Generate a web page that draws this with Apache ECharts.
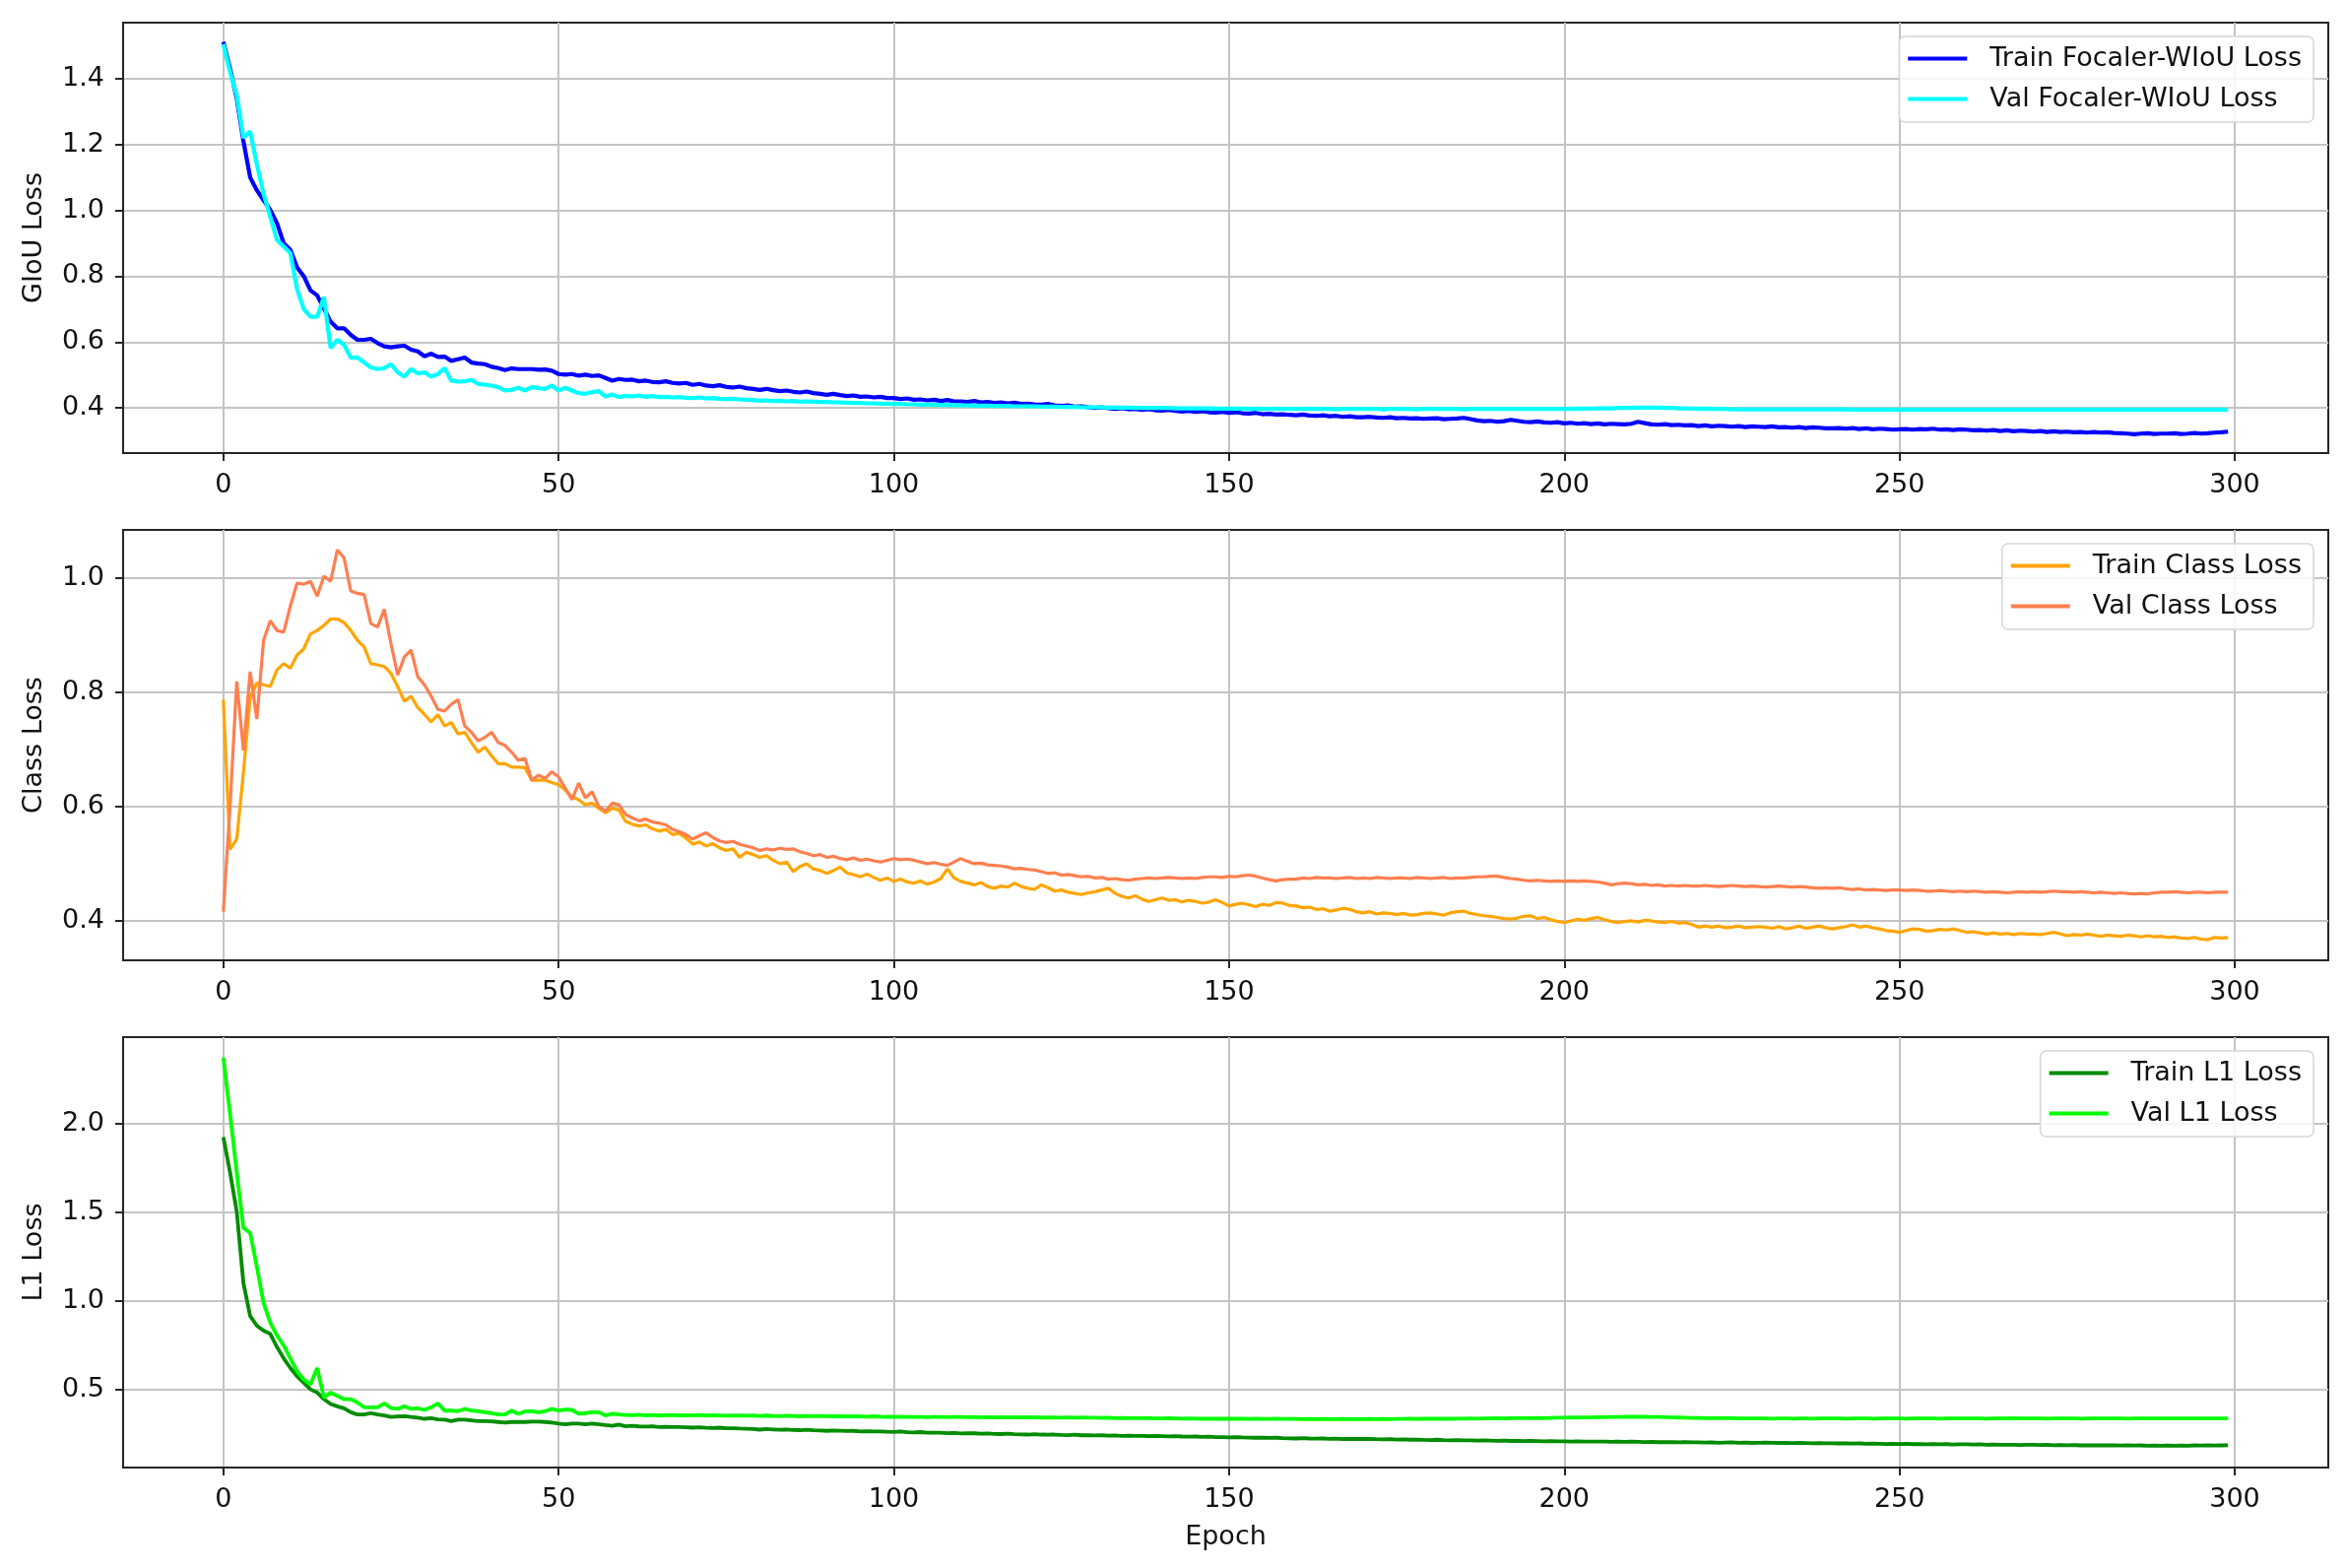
<!DOCTYPE html>
<html>
<head>
<meta charset="utf-8">
<script src="https://cdn.jsdelivr.net/npm/echarts@6/dist/echarts.min.js"></script>
<style>
html,body{margin:0;padding:0;background:#fff;}
#chart{width:2383px;height:1592px;}
</style>
</head>
<body>
<div id="chart"></div>
<script>
// ---- data ----
const xTicks = [0, 50, 100, 150, 200, 250, 300];
const giouTicks = [0.4, 0.6, 0.8, 1.0, 1.2, 1.4];
const classTicks = [0.4, 0.6, 0.8, 1.0];
const l1Ticks = [0.5, 1.0, 1.5, 2.0];

const trainGiou = [
1.512,1.43,1.34,1.21,1.10,1.061,1.031,1.001,0.961,0.90,
0.88,0.827,0.80,0.757,0.742,0.702,0.662,0.642,0.642,0.622,
0.607,0.607,0.61,0.597,0.587,0.584,0.587,0.589,0.577,0.572,
0.557,0.565,0.555,0.556,0.543,0.548,0.553,0.538,0.535,0.533,
0.525,0.521,0.515,0.52,0.518,0.518,0.518,0.516,0.517,0.513,
0.503,0.501,0.503,0.498,0.501,0.497,0.499,0.491,0.483,0.488,
0.485,0.486,0.481,0.483,0.479,0.478,0.481,0.476,0.474,0.476,
0.47,0.473,0.468,0.466,0.469,0.464,0.462,0.465,0.46,0.458,
0.455,0.458,0.454,0.451,0.453,0.449,0.447,0.45,0.445,0.443,
0.44,0.443,0.439,0.436,0.438,0.434,0.435,0.432,0.434,0.43,
0.43,0.427,0.429,0.425,0.426,0.423,0.425,0.421,0.424,0.42,
0.42,0.418,0.421,0.417,0.418,0.415,0.417,0.414,0.416,0.412,
0.413,0.411,0.41,0.412,0.408,0.406,0.408,0.404,0.405,0.402,
0.40,0.402,0.399,0.397,0.399,0.396,0.397,0.394,0.396,0.393,
0.392,0.394,0.391,0.389,0.391,0.388,0.39,0.387,0.386,0.388,
0.385,0.387,0.384,0.383,0.385,0.381,0.382,0.38,0.381,0.379,
0.378,0.38,0.377,0.376,0.378,0.375,0.376,0.373,0.375,0.372,
0.372,0.373,0.371,0.37,0.372,0.369,0.37,0.368,0.369,0.367,
0.368,0.369,0.366,0.367,0.368,0.37,0.366,0.362,0.36,0.361,
0.358,0.36,0.364,0.361,0.358,0.357,0.359,0.356,0.355,0.357,
0.353,0.355,0.352,0.354,0.351,0.353,0.35,0.352,0.351,0.35,
0.352,0.358,0.354,0.35,0.349,0.351,0.348,0.349,0.347,0.348,
0.345,0.347,0.344,0.346,0.345,0.343,0.345,0.342,0.344,0.343,
0.342,0.344,0.341,0.342,0.34,0.342,0.339,0.341,0.34,0.338,
0.338,0.339,0.337,0.339,0.336,0.338,0.335,0.337,0.336,0.334,
0.335,0.336,0.334,0.336,0.335,0.337,0.334,0.335,0.333,0.335,
0.334,0.332,0.333,0.331,0.333,0.33,0.332,0.329,0.331,0.33,
0.328,0.33,0.327,0.329,0.327,0.328,0.326,0.327,0.325,0.327,
0.325,0.326,0.324,0.323,0.322,0.32,0.322,0.323,0.321,0.322,
0.322,0.323,0.321,0.322,0.324,0.322,0.323,0.325,0.326,0.328
];
const valGiou = [
1.505,1.42,1.35,1.22,1.24,1.14,1.05,0.98,0.91,0.89,
0.87,0.76,0.70,0.677,0.677,0.737,0.582,0.607,0.592,0.553,
0.553,0.538,0.523,0.518,0.521,0.533,0.508,0.495,0.518,0.505,
0.508,0.495,0.503,0.521,0.483,0.48,0.481,0.485,0.473,0.471,
0.468,0.463,0.453,0.455,0.461,0.453,0.463,0.46,0.458,0.468,
0.453,0.461,0.453,0.445,0.443,0.448,0.451,0.435,0.441,0.433,
0.437,0.435,0.438,0.434,0.436,0.433,0.434,0.432,0.433,0.431,
0.43,0.432,0.429,0.43,0.428,0.427,0.428,0.426,0.425,0.424,
0.422,0.423,0.421,0.422,0.42,0.421,0.419,0.42,0.419,0.418,
0.418,0.417,0.417,0.416,0.415,0.415,0.414,0.414,0.413,0.413,
0.412,0.412,0.411,0.411,0.41,0.41,0.41,0.409,0.409,0.408,
0.408,0.408,0.407,0.407,0.407,0.406,0.406,0.406,0.405,0.405,
0.405,0.405,0.404,0.404,0.404,0.403,0.403,0.403,0.402,0.402,
0.402,0.402,0.401,0.401,0.401,0.401,0.4,0.4,0.4,0.4,
0.4,0.4,0.399,0.399,0.399,0.399,0.399,0.399,0.398,0.398,
0.398,0.398,0.398,0.397,0.398,0.397,0.397,0.398,0.397,0.397,
0.397,0.397,0.398,0.397,0.397,0.397,0.396,0.397,0.397,0.397,
0.397,0.397,0.397,0.396,0.397,0.397,0.397,0.397,0.396,0.397,
0.397,0.397,0.397,0.397,0.397,0.396,0.397,0.397,0.397,0.397,
0.397,0.397,0.397,0.397,0.397,0.397,0.397,0.397,0.397,0.397,
0.397,0.397,0.398,0.398,0.398,0.399,0.399,0.399,0.4,0.4,
0.4,0.401,0.401,0.401,0.401,0.4,0.4,0.399,0.399,0.398,
0.398,0.398,0.397,0.397,0.397,0.396,0.396,0.396,0.396,0.396,
0.396,0.396,0.396,0.396,0.396,0.396,0.396,0.396,0.396,0.396,
0.396,0.396,0.396,0.395,0.395,0.395,0.395,0.395,0.395,0.395,
0.395,0.395,0.395,0.395,0.395,0.395,0.395,0.395,0.395,0.395,
0.395,0.395,0.395,0.395,0.395,0.395,0.395,0.395,0.395,0.395,
0.395,0.395,0.395,0.395,0.395,0.395,0.395,0.395,0.395,0.395,
0.395,0.395,0.395,0.395,0.395,0.395,0.395,0.395,0.395,0.395,
0.395,0.395,0.395,0.395,0.395,0.395,0.395,0.395,0.395,0.395
];
const trainClass = [
0.787,0.525,0.543,0.66,0.79,0.816,0.813,0.81,0.839,0.85,
0.842,0.865,0.876,0.902,0.908,0.917,0.928,0.928,0.922,0.908,
0.891,0.879,0.85,0.848,0.845,0.833,0.81,0.784,0.793,0.773,
0.761,0.748,0.761,0.741,0.747,0.727,0.73,0.712,0.695,0.704,
0.689,0.675,0.675,0.669,0.669,0.668,0.646,0.646,0.646,0.642,
0.638,0.629,0.617,0.612,0.603,0.606,0.597,0.589,0.597,0.594,
0.574,0.569,0.566,0.568,0.561,0.557,0.56,0.551,0.553,0.545,
0.534,0.538,0.531,0.535,0.528,0.523,0.526,0.511,0.52,0.516,
0.511,0.514,0.506,0.50,0.503,0.486,0.495,0.50,0.491,0.488,
0.483,0.488,0.494,0.484,0.481,0.477,0.482,0.476,0.471,0.475,
0.469,0.473,0.468,0.466,0.47,0.464,0.468,0.474,0.491,0.475,
0.469,0.466,0.463,0.467,0.46,0.457,0.461,0.459,0.466,0.46,
0.457,0.455,0.463,0.458,0.452,0.454,0.45,0.448,0.446,0.449,
0.451,0.454,0.457,0.448,0.443,0.44,0.444,0.438,0.434,0.437,
0.44,0.436,0.437,0.433,0.436,0.434,0.431,0.433,0.437,0.432,
0.426,0.429,0.431,0.428,0.425,0.429,0.427,0.432,0.431,0.427,
0.426,0.423,0.424,0.42,0.421,0.417,0.419,0.422,0.42,0.416,
0.414,0.416,0.412,0.414,0.413,0.411,0.413,0.41,0.411,0.413,
0.414,0.412,0.41,0.414,0.416,0.417,0.413,0.411,0.409,0.408,
0.406,0.404,0.403,0.405,0.408,0.409,0.404,0.406,0.402,0.399,
0.397,0.4,0.403,0.401,0.404,0.406,0.402,0.399,0.397,0.399,
0.40,0.398,0.401,0.40,0.398,0.397,0.399,0.396,0.397,0.394,
0.389,0.391,0.389,0.391,0.388,0.389,0.391,0.388,0.389,0.39,
0.389,0.387,0.39,0.386,0.388,0.391,0.387,0.389,0.391,0.388,
0.386,0.388,0.39,0.393,0.389,0.391,0.388,0.386,0.383,0.382,
0.38,0.383,0.386,0.385,0.382,0.383,0.385,0.384,0.386,0.383,
0.38,0.381,0.379,0.377,0.379,0.377,0.378,0.376,0.378,0.377,
0.377,0.376,0.378,0.38,0.377,0.374,0.376,0.375,0.377,0.375,
0.373,0.375,0.374,0.373,0.375,0.374,0.372,0.374,0.372,0.373,
0.371,0.372,0.37,0.369,0.371,0.368,0.367,0.371,0.37,0.371
];
const valClass = [
0.416,0.60,0.819,0.698,0.836,0.753,0.891,0.925,0.908,0.905,
0.951,0.991,0.989,0.994,0.968,1.003,0.994,1.049,1.035,0.977,
0.973,0.971,0.92,0.914,0.945,0.885,0.83,0.862,0.874,0.827,
0.813,0.793,0.77,0.767,0.779,0.787,0.741,0.73,0.715,0.721,
0.73,0.712,0.707,0.695,0.681,0.684,0.646,0.655,0.649,0.661,
0.652,0.632,0.612,0.641,0.615,0.626,0.60,0.592,0.606,0.603,
0.586,0.58,0.575,0.578,0.573,0.571,0.568,0.56,0.556,0.551,
0.543,0.549,0.554,0.546,0.54,0.537,0.539,0.534,0.531,0.528,
0.523,0.526,0.524,0.527,0.525,0.526,0.521,0.518,0.514,0.516,
0.511,0.513,0.509,0.507,0.51,0.506,0.508,0.505,0.503,0.506,
0.509,0.507,0.508,0.506,0.503,0.50,0.502,0.499,0.497,0.503,
0.509,0.504,0.50,0.501,0.498,0.497,0.496,0.494,0.491,0.492,
0.49,0.489,0.486,0.483,0.484,0.48,0.481,0.479,0.477,0.478,
0.475,0.476,0.473,0.474,0.472,0.471,0.473,0.474,0.475,0.474,
0.475,0.476,0.475,0.474,0.475,0.474,0.476,0.477,0.477,0.476,
0.478,0.477,0.479,0.48,0.478,0.475,0.472,0.47,0.472,0.473,
0.473,0.475,0.474,0.476,0.475,0.475,0.474,0.475,0.476,0.474,
0.475,0.474,0.476,0.475,0.474,0.475,0.475,0.474,0.476,0.475,
0.474,0.475,0.476,0.474,0.475,0.475,0.476,0.477,0.477,0.478,
0.478,0.476,0.474,0.473,0.471,0.47,0.471,0.47,0.469,0.47,
0.469,0.47,0.469,0.47,0.469,0.468,0.466,0.463,0.465,0.466,
0.465,0.463,0.464,0.462,0.463,0.461,0.462,0.461,0.462,0.461,
0.461,0.462,0.461,0.46,0.461,0.462,0.461,0.46,0.461,0.46,
0.459,0.46,0.461,0.46,0.459,0.46,0.459,0.458,0.457,0.458,
0.457,0.458,0.456,0.455,0.456,0.454,0.455,0.454,0.453,0.454,
0.454,0.453,0.454,0.453,0.452,0.452,0.453,0.452,0.451,0.452,
0.451,0.452,0.451,0.45,0.451,0.45,0.449,0.45,0.451,0.45,
0.451,0.45,0.451,0.452,0.451,0.451,0.45,0.451,0.45,0.449,
0.45,0.449,0.448,0.449,0.448,0.447,0.448,0.447,0.449,0.45,
0.45,0.451,0.45,0.449,0.45,0.45,0.449,0.45,0.45,0.45
];
const trainL1 = [
1.923,1.724,1.503,1.098,0.914,0.859,0.831,0.813,0.739,0.675,
0.62,0.574,0.537,0.50,0.482,0.445,0.417,0.404,0.393,0.371,
0.358,0.358,0.366,0.358,0.353,0.344,0.347,0.349,0.344,0.34,
0.334,0.338,0.331,0.329,0.321,0.329,0.329,0.325,0.321,0.321,
0.32,0.316,0.312,0.316,0.316,0.316,0.318,0.318,0.316,0.312,
0.307,0.303,0.307,0.307,0.303,0.307,0.303,0.298,0.294,0.301,
0.292,0.294,0.291,0.29,0.292,0.288,0.289,0.287,0.288,0.286,
0.284,0.286,0.283,0.282,0.284,0.28,0.281,0.279,0.278,0.276,
0.273,0.276,0.274,0.272,0.274,0.271,0.27,0.272,0.269,0.268,
0.266,0.268,0.267,0.265,0.266,0.263,0.264,0.262,0.263,0.261,
0.26,0.262,0.258,0.257,0.259,0.256,0.255,0.256,0.253,0.254,
0.251,0.253,0.252,0.25,0.251,0.249,0.248,0.25,0.247,0.246,
0.245,0.247,0.245,0.244,0.245,0.243,0.242,0.244,0.241,0.242,
0.24,0.241,0.239,0.24,0.238,0.239,0.237,0.238,0.236,0.237,
0.236,0.235,0.236,0.234,0.233,0.234,0.232,0.233,0.231,0.23,
0.229,0.231,0.229,0.228,0.227,0.228,0.226,0.227,0.225,0.224,
0.223,0.225,0.223,0.222,0.223,0.221,0.222,0.22,0.221,0.22,
0.22,0.221,0.219,0.218,0.219,0.217,0.218,0.216,0.217,0.215,
0.214,0.216,0.214,0.213,0.214,0.212,0.213,0.211,0.212,0.211,
0.21,0.211,0.209,0.21,0.208,0.209,0.208,0.207,0.208,0.207,
0.207,0.206,0.207,0.205,0.206,0.205,0.206,0.204,0.205,0.204,
0.205,0.204,0.203,0.204,0.202,0.203,0.202,0.201,0.202,0.201,
0.201,0.2,0.201,0.199,0.2,0.201,0.199,0.2,0.198,0.199,
0.2,0.199,0.198,0.199,0.197,0.198,0.197,0.196,0.197,0.196,
0.196,0.195,0.196,0.194,0.195,0.193,0.194,0.193,0.192,0.193,
0.192,0.193,0.191,0.192,0.19,0.191,0.19,0.191,0.189,0.19,
0.19,0.189,0.19,0.188,0.189,0.187,0.188,0.187,0.186,0.187,
0.187,0.186,0.187,0.185,0.186,0.185,0.186,0.184,0.185,0.184,
0.185,0.184,0.185,0.183,0.184,0.183,0.184,0.182,0.183,0.182,
0.183,0.182,0.183,0.182,0.184,0.183,0.184,0.183,0.184,0.185
];
const valL1 = [
2.372,2.055,1.724,1.411,1.383,1.19,0.988,0.877,0.804,0.748,
0.675,0.601,0.555,0.528,0.62,0.454,0.482,0.463,0.445,0.445,
0.426,0.399,0.399,0.399,0.421,0.395,0.39,0.404,0.39,0.393,
0.384,0.399,0.421,0.38,0.38,0.377,0.39,0.38,0.377,0.371,
0.366,0.358,0.358,0.38,0.362,0.375,0.377,0.371,0.377,0.39,
0.38,0.386,0.384,0.362,0.366,0.371,0.371,0.353,0.362,0.358,
0.356,0.354,0.357,0.353,0.355,0.352,0.354,0.356,0.353,0.354,
0.353,0.355,0.352,0.354,0.353,0.351,0.353,0.352,0.351,0.352,
0.35,0.352,0.35,0.349,0.351,0.35,0.348,0.35,0.349,0.35,
0.349,0.348,0.349,0.347,0.348,0.347,0.346,0.348,0.346,0.345,
0.345,0.346,0.344,0.345,0.344,0.343,0.345,0.344,0.343,0.344,
0.344,0.343,0.344,0.342,0.343,0.342,0.343,0.342,0.343,0.342,
0.343,0.342,0.341,0.342,0.341,0.34,0.341,0.34,0.341,0.34,
0.34,0.339,0.34,0.338,0.339,0.338,0.337,0.338,0.337,0.336,
0.336,0.337,0.336,0.335,0.336,0.335,0.334,0.335,0.334,0.334,
0.335,0.334,0.334,0.333,0.334,0.333,0.333,0.334,0.333,0.333,
0.333,0.332,0.333,0.332,0.333,0.332,0.332,0.333,0.332,0.332,
0.332,0.333,0.332,0.333,0.332,0.333,0.333,0.334,0.333,0.334,
0.334,0.334,0.335,0.334,0.335,0.335,0.336,0.335,0.336,0.336,
0.337,0.336,0.337,0.338,0.337,0.338,0.339,0.338,0.339,0.34,
0.34,0.341,0.341,0.342,0.342,0.343,0.343,0.344,0.344,0.345,
0.345,0.345,0.346,0.345,0.344,0.343,0.342,0.341,0.34,0.339,
0.339,0.338,0.338,0.337,0.337,0.337,0.336,0.336,0.336,0.336,
0.336,0.335,0.336,0.336,0.335,0.336,0.336,0.335,0.336,0.336,
0.336,0.336,0.335,0.336,0.336,0.336,0.335,0.336,0.336,0.336,
0.336,0.335,0.336,0.336,0.336,0.336,0.335,0.336,0.336,0.336,
0.336,0.336,0.336,0.335,0.336,0.336,0.336,0.337,0.336,0.336,
0.336,0.336,0.335,0.336,0.336,0.336,0.336,0.335,0.336,0.336,
0.336,0.336,0.336,0.336,0.335,0.336,0.336,0.336,0.336,0.336,
0.336,0.336,0.336,0.336,0.336,0.336,0.336,0.336,0.336,0.336
];

// ---- chart ----
const FONT = 'DejaVu Sans';
const FS = 27;
const epochs = trainGiou.map((_, i) => i);
const pairs = arr => arr.map((v, i) => [epochs[i], v]);

const gridTops = [23, 538, 1053];
const gridH = 437;
const panels = [
  {name: 'GIoU Loss', min: 0.263, max: 1.57, ticks: giouTicks, fmt: v => v.toFixed(1),
   s: [{n: 'Train Focaler-WIoU Loss', d: trainGiou, c: '#0000ff', w: 4.2},
       {n: 'Val Focaler-WIoU Loss', d: valGiou, c: '#00ffff', w: 4.2}]},
  {name: 'Class Loss', min: 0.331, max: 1.084, ticks: classTicks, fmt: v => v.toFixed(1),
   s: [{n: 'Train Class Loss', d: trainClass, c: '#ffa500', w: 3.2},
       {n: 'Val Class Loss', d: valClass, c: '#ff7f50', w: 3.2}]},
  {name: 'L1 Loss', min: 0.059, max: 2.487, ticks: l1Ticks, fmt: v => v.toFixed(1),
   s: [{n: 'Train L1 Loss', d: trainL1, c: '#008c00', w: 3.8},
       {n: 'Val L1 Loss', d: valL1, c: '#00ff00', w: 3.8}]}
];

const grid = [], xAxis = [], yAxis = [], series = [], legend = [];
panels.forEach((p, i) => {
  grid.push({left: 125, right: 19, top: gridTops[i], height: gridH, show: true,
    borderColor: '#262626', borderWidth: 2, backgroundColor: '#fff', containLabel: false});
  xAxis.push({
    type: 'value', gridIndex: i, min: -14.95, max: 313.95,
    name: i === 2 ? 'Epoch' : '', nameLocation: 'middle', nameGap: 57,
    nameTextStyle: {fontFamily: FONT, fontSize: FS, color: '#111'},
    axisLine: {show: true, onZero: false, lineStyle: {color: '#262626', width: 2}},
    axisTick: {show: true, length: 8, customValues: xTicks, lineStyle: {color: '#262626', width: 2}},
    axisLabel: {customValues: xTicks, margin: 19, fontFamily: FONT, fontSize: FS, color: '#111'},
    splitLine: {show: true, lineStyle: {color: '#c4c4c4', width: 2}}
  });
  yAxis.push({
    type: 'value', gridIndex: i, min: p.min, max: p.max,
    name: p.name, nameLocation: 'middle', nameGap: 77, nameRotate: 90,
    nameTextStyle: {fontFamily: FONT, fontSize: FS, color: '#111'},
    axisLine: {show: true, onZero: false, lineStyle: {color: '#262626', width: 2}},
    axisTick: {show: true, length: 8, customValues: p.ticks, lineStyle: {color: '#262626', width: 2}},
    axisLabel: {customValues: p.ticks, margin: 19, fontFamily: FONT, fontSize: FS, color: '#111', formatter: p.fmt},
    splitLine: {show: true, lineStyle: {color: '#c4c4c4', width: 2}}
  });
  p.s.forEach(s => {
    series.push({
      type: 'line', name: s.n, xAxisIndex: i, yAxisIndex: i, data: pairs(s.d),
      showSymbol: false, symbol: 'none', smooth: false,
      lineStyle: {color: s.c, width: s.w}, itemStyle: {color: s.c},
      emphasis: {disabled: true}
    });
  });
  legend.push({
    data: p.s.map(s => s.n), orient: 'vertical', right: 34, top: gridTops[i] + 14,
    icon: 'rect', itemWidth: 60, itemHeight: 4, itemGap: 14,
    padding: [9, 12, 10, 9],
    backgroundColor: 'rgba(255,255,255,0.85)', borderColor: '#d6d6d6', borderWidth: 1.5, borderRadius: 6,
    textStyle: {fontFamily: FONT, fontSize: FS, color: '#111', lineHeight: 27, padding: [0, 0, 0, 18]},
    selectedMode: false
  });
});

const chart = echarts.init(document.getElementById('chart'), null, {renderer: 'canvas'});
chart.setOption({
  backgroundColor: '#ffffff',
  animation: false,
  grid, xAxis, yAxis, series, legend
});
</script>
</body>
</html>
